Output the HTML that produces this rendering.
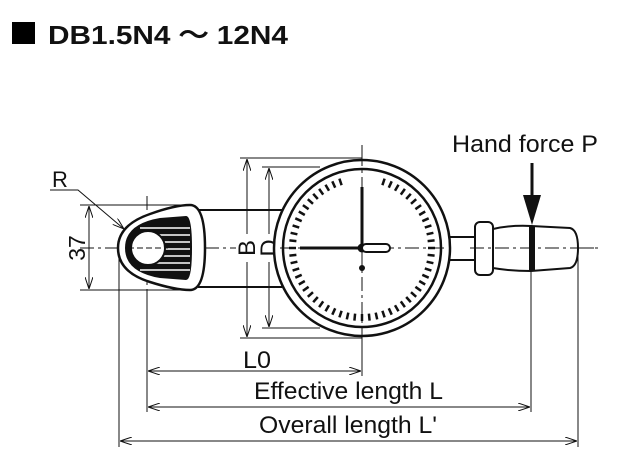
<!DOCTYPE html>
<html><head><meta charset="utf-8"><style>
html,body{margin:0;padding:0;background:#fff;}
svg{display:block;}
text{font-family:"Liberation Sans",Arial,sans-serif;fill:#111;}
</style></head><body>
<svg width="640" height="456" viewBox="0 0 640 456" xmlns="http://www.w3.org/2000/svg">
<defs>
<marker id="a" viewBox="0 0 12 8" refX="12" refY="4" markerWidth="12" markerHeight="8" orient="auto-start-reverse" markerUnits="userSpaceOnUse">
<path d="M0,0 L12,4 L0,8" fill="none" stroke="#111" stroke-width="1"/></marker>
</defs>
<rect x="12" y="22" width="23" height="22" fill="#000"/>
<text x="48" y="44" font-size="26" font-weight="bold" textLength="240" lengthAdjust="spacingAndGlyphs">DB1.5N4 ～ 12N4</text>
<text x="452" y="152" font-size="24" textLength="146" lengthAdjust="spacingAndGlyphs">Hand force P</text>
<text x="52" y="187" font-size="22">R</text>

<g stroke="#111" stroke-width="1" fill="none">
<line x1="80" y1="248" x2="598" y2="248" stroke-dasharray="14,4,3,4"/>
<line x1="362" y1="145" x2="362" y2="352" stroke-dasharray="14,4,3,4"/>
<line x1="147" y1="196" x2="147" y2="300" stroke-dasharray="14,4,3,4"/>
<line x1="80" y1="205" x2="185" y2="205"/>
<line x1="80" y1="290" x2="185" y2="290"/>
<line x1="119" y1="250" x2="119" y2="447"/>
<line x1="147" y1="290" x2="147" y2="412"/>
<line x1="531" y1="258" x2="531" y2="412"/>
<line x1="578" y1="248" x2="578" y2="447"/>
<line x1="362" y1="330" x2="362" y2="376"/>
<line x1="240" y1="158" x2="362" y2="158"/>
<line x1="240" y1="338" x2="362" y2="338"/>
<line x1="262" y1="167" x2="320" y2="167"/>
<line x1="262" y1="328" x2="320" y2="328"/>
<line x1="89" y1="206" x2="89" y2="289" marker-start="url(#a)" marker-end="url(#a)"/>
<line x1="247" y1="159" x2="247" y2="337" marker-start="url(#a)" marker-end="url(#a)"/>
<line x1="269" y1="168" x2="269" y2="327" marker-start="url(#a)" marker-end="url(#a)"/>
<line x1="148" y1="371" x2="361" y2="371" marker-start="url(#a)" marker-end="url(#a)"/>
<line x1="148" y1="407" x2="530" y2="407" marker-start="url(#a)" marker-end="url(#a)"/>
<line x1="120" y1="441" x2="577" y2="441" marker-start="url(#a)" marker-end="url(#a)"/>
<polyline points="50,190 78,190 124,229" marker-end="url(#a)"/>
</g>
<text transform="translate(85,248) rotate(-90)" font-size="23" text-anchor="middle">37</text>
<rect x="236" y="234" width="22" height="28" fill="#fff"/>
<text transform="translate(255,248) rotate(-90)" font-size="24" text-anchor="middle">B</text>
<rect x="258" y="234" width="22" height="28" fill="#fff"/>
<text transform="translate(277,248) rotate(-90)" font-size="24" text-anchor="middle">D</text>
<text x="243" y="368" font-size="24" textLength="28" lengthAdjust="spacingAndGlyphs">L0</text>
<text x="254" y="399" font-size="24" textLength="189" lengthAdjust="spacingAndGlyphs">Effective length L</text>
<text x="259" y="433" font-size="24" textLength="178" lengthAdjust="spacingAndGlyphs">Overall length L'</text>

<g stroke="#111" stroke-width="2" fill="none">
<line x1="198" y1="210" x2="282" y2="210"/>
<line x1="198" y1="287" x2="282" y2="287"/>
</g>
<path d="M190,205 Q205,205 205,248 Q205,290 190,290 Q175,290 150,282 Q118,272 118,248 Q118,225 150,214 Q175,205 190,205 Z" fill="#fff" stroke="#111" stroke-width="2.5"/>
<path d="M186,216 Q192,216 192,248 Q192,280 186,280 L160,278 Q125,272 125,248 Q125,224 160,218 Z" fill="#111"/>
<g stroke="#fff" stroke-width="1.5">
<line x1="140" y1="228" x2="190" y2="228"/><line x1="140" y1="235" x2="190" y2="235"/><line x1="140" y1="242" x2="190" y2="242"/>
<line x1="140" y1="249" x2="190" y2="249"/><line x1="140" y1="256" x2="190" y2="256"/><line x1="140" y1="263" x2="190" y2="263"/><line x1="140" y1="270" x2="190" y2="270"/>
</g>
<circle cx="148" cy="248" r="17" fill="#fff" stroke="#111" stroke-width="2"/>
<line x1="128" y1="248" x2="168" y2="248" stroke="#111" stroke-dasharray="6,3"/>

<rect x="448" y="237" width="28" height="23" fill="#fff" stroke="#111" stroke-width="2"/>
<path d="M441,222 Q452,240 441,280" fill="none" stroke="#111" stroke-width="2"/>
<rect x="475" y="222" width="18" height="53" rx="5" fill="#fff" stroke="#111" stroke-width="2"/>
<path d="M493,229 Q510,225 531,226 L570,228 Q578,230 578,248 Q578,266 570,268 L531,271 Q510,271 493,268 Z" fill="#fff" stroke="#111" stroke-width="2"/>
<rect x="529" y="226" width="6" height="45" fill="#111"/>
<line x1="532" y1="163" x2="532" y2="200" stroke="#111" stroke-width="3"/>
<path d="M523,195 L541,195 L532,225 Z" fill="#111"/>
<line x1="470" y1="248" x2="598" y2="248" stroke="#111" stroke-dasharray="14,4,3,4"/>

<circle cx="362" cy="248" r="88" fill="#fff" stroke="#111" stroke-width="2.5"/>
<circle cx="362" cy="248" r="79" fill="#fff" stroke="#111" stroke-width="2.5"/>
<g id="ticks" stroke="#111" stroke-width="2.5"></g>
<line x1="362" y1="152" x2="362" y2="345" stroke="#111" stroke-dasharray="14,4,3,4"/>
<line x1="280" y1="248" x2="445" y2="248" stroke="#111" stroke-dasharray="14,4,3,4"/>
<line x1="300" y1="248" x2="362" y2="248" stroke="#111" stroke-width="3"/>
<line x1="362" y1="187" x2="362" y2="248" stroke="#111" stroke-width="3"/>
<circle cx="362" cy="248" r="4.5" fill="#111"/>
<rect x="362" y="244" width="28" height="8" rx="4" fill="#fff" stroke="#111" stroke-width="2"/>
<circle cx="362" cy="268" r="3" fill="#111"/>
</svg>
<script>
var g=document.getElementById('ticks'),s='';
for(var i=0;i<60;i++){var d=i*6; if(d<18||d>342)continue;
var r=d*Math.PI/180,sx=Math.sin(r),cy=-Math.cos(r);
s+='<line x1="'+(362+66*sx).toFixed(1)+'" y1="'+(248+66*cy).toFixed(1)+'" x2="'+(362+73*sx).toFixed(1)+'" y2="'+(248+73*cy).toFixed(1)+'"/>';}
g.innerHTML=s;
</script>
</body></html>
